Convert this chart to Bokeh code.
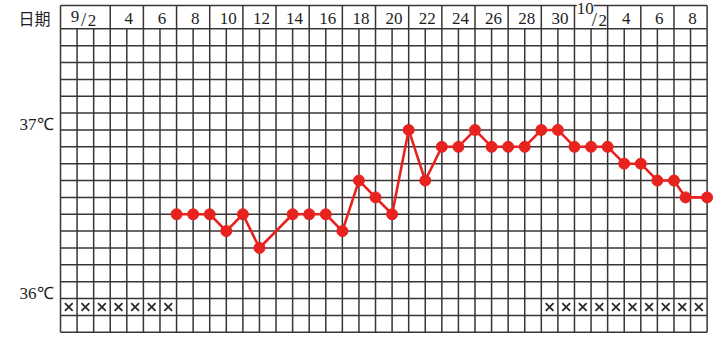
from bokeh.plotting import figure
from bokeh.models import Range1d
from bokeh.core.properties import value
from bokeh.embed import file_html
from bokeh.resources import INLINE

# ---- data ----
days = [7, 8, 9, 10, 11, 12, 14, 15, 16, 17, 18, 19, 20, 21, 22, 23, 24, 25,
        26, 27, 28, 29, 30, 31, 32, 33, 34, 35, 36, 37, 37.7, 39]
temps = [36.5, 36.5, 36.5, 36.4, 36.5, 36.3, 36.5, 36.5, 36.5, 36.4, 36.7, 36.6,
         36.5, 37.0, 36.7, 36.9, 36.9, 37.0, 36.9, 36.9, 36.9, 37.0, 37.0, 36.9,
         36.9, 36.9, 36.8, 36.8, 36.7, 36.7, 36.6, 36.6]
marked_days = [1, 2, 3, 4, 5, 6, 7, 30, 31, 32, 33, 34, 35, 36, 37, 38, 39]
tick_days = [2, 4, 6, 8, 10, 12, 14, 16, 18, 20, 22, 24, 26, 28, 30, 32, 34, 36, 38]
tick_labels = ["9/2", "4", "6", "8", "10", "12", "14", "16", "18", "20", "22",
               "24", "26", "28", "30", "10/2", "4", "6", "8"]
header_bounds = [0, 3, 5, 7, 9, 11, 13, 15, 17, 19, 21, 23, 25, 27, 29, 31, 33, 35, 37, 39]
temp_labels = [37.0, 36.0]
n_days = 39
t_min, t_max = 35.8, 37.6

# ---- geometry ----
W, H = 716, 342
PX_X = 16.58          # px per day
X0 = 60.0             # px of day 0
PX_T = 168.6          # px per degree
TOP = 28.3            # px of t_max line
x_start = -X0 / PX_X
x_end = x_start + W / PX_X
y_end = t_max + TOP / PX_T
y_start = y_end - H / PX_T
t_head = y_end - 5.0 / PX_T

p = figure(width=W, height=H, output_backend="svg", toolbar_location=None,
           x_range=Range1d(x_start, x_end), y_range=Range1d(y_start, y_end),
           min_border=0, min_border_left=0, min_border_right=0,
           min_border_top=0, min_border_bottom=0)
p.xaxis.visible = False
p.yaxis.visible = False
p.grid.visible = False
p.outline_line_color = None
p.background_fill_color = "white"
p.border_fill_color = "white"

grid_color = "#3a3434"
gw = 1.5
levels = [round(t_min + 0.1 * i, 1) for i in range(int(round((t_max - t_min) * 10)) + 1)]
vx = list(range(0, n_days + 1))
p.segment(x0=vx, y0=[t_min] * len(vx), x1=vx, y1=[t_max] * len(vx),
          line_color=grid_color, line_width=gw)
p.segment(x0=[0] * len(levels), y0=levels, x1=[n_days] * len(levels), y1=levels,
          line_color=grid_color, line_width=gw)
p.segment(x0=header_bounds, y0=[t_max] * len(header_bounds), x1=header_bounds,
          y1=[t_head] * len(header_bounds), line_color=grid_color, line_width=gw)
p.segment(x0=[0], y0=[t_head], x1=[n_days], y1=[t_head],
          line_color=grid_color, line_width=gw)

serif = value("Liberation Serif")
tc = "#1e1e1e"

def put(x, y_px, s, size="17px", bg=None):
    p.text(x=[x], y=[y_end - y_px / PX_T], text=[s], text_font=serif,
           text_font_size=size, text_align="center", text_baseline="middle",
           text_color=tc, background_fill_color=bg)

plain_x, plain_t = [], []
for d, lab in zip(tick_days, tick_labels):
    if "/" in lab:
        m, dd = lab.split("/")
        if len(m) > 1:
            put(d - 0.35, 8.0, m, bg="white")
            put(d + 0.2, 18.5, "/", size="19px")
            put(d + 0.7, 19.5, dd)
        else:
            put(d - 1.12, 15.5, m)
            put(d - 0.6, 18.5, "/", size="19px")
            put(d - 0.1, 20.0, dd)
    else:
        plain_x.append(d + 0.12)
        plain_t.append(lab)
p.text(x=plain_x, y=[y_end - 17.5 / PX_T] * len(plain_x), text=plain_t,
       text_font=serif, text_font_size="17px", text_align="center",
       text_baseline="middle", text_color=tc)

p.text(x=[-0.6], y=[y_end - 17.0 / PX_T], text=["日期"],
       text_font=value("Noto Sans CJK SC"), text_font_size="16px",
       text_align="right", text_baseline="middle", text_color=tc)
p.text(x=[-0.42] * len(temp_labels), y=temp_labels, y_offset=-5,
       text=[f"{int(t)}℃" for t in temp_labels], text_font=serif,
       text_font_size="17px", text_align="right", text_baseline="middle",
       text_color=tc)

p.scatter(x=[d - 0.5 for d in marked_days], y=[36.0 - 0.05] * len(marked_days),
          marker="x", size=11, line_color="#2a2a2a", line_width=1.8)

red = "#e8231f"
p.line(days, temps, line_color=red, line_width=2.6)
p.scatter(days, temps, size=11, fill_color=red, line_color=red)

open("out.html", "w").write(file_html(p, INLINE))
